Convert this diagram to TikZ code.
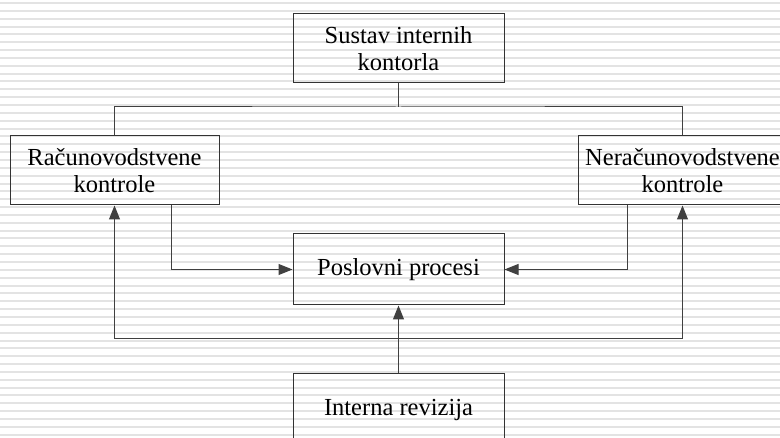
\documentclass[tikz,border=0pt]{standalone}
\usepackage{fontspec}
\setmainfont{Liberation Serif}
\usetikzlibrary{arrows.meta}

\begin{document}
\begin{tikzpicture}[
    x=1pt, y=-1pt,
    box/.style={rectangle, draw=black!80, line width=1pt, minimum width=211pt, minimum height=69pt, align=center, font=\fontsize{24.5}{27}\selectfont, inner sep=0pt},
    line/.style={draw=black!75, line width=1pt},
    arrow/.style={line, -{Triangle[length=14pt, width=11pt]}},
    stripe/.style={draw=gray!22, line width=2pt}
]
\useasboundingbox (0,0) rectangle (780,438);

% background stripes
\foreach \k in {0,...,55}
  \draw[stripe] (0,{3+7.85*\k}) -- (780,{3+7.85*\k});

\node[box] (system) at (398.5,48.5) {Sustav internih\\kontorla};
\node[box, minimum width=209pt] (acc) at (114.5,170.5) {Računovodstvene\\kontrole};
\node[box, minimum width=209pt] (nonacc) at (682.5,170.5) {Neračunovodstvene\\kontrole};
\node[box, minimum height=71pt] (proc) at (398.5,269.5) {Poslovni procesi};
\node[box, minimum height=71pt] (audit) at (398.5,409.5) {Interna revizija};

\coordinate (bus) at (398.5,107);
\coordinate (low) at (398.5,339);

\draw[line] (system) -- (bus);
\draw[line] (acc.north) |- (bus) -| (nonacc.north);
\draw[arrow] ([xshift=56.5pt]acc.south) |- (proc.west);
\draw[arrow] ([xshift=-55.5pt]nonacc.south) |- (proc.east);
\draw[arrow] (audit) -- (proc);
\draw[arrow] (low) -| (acc.south);
\draw[arrow] (low) -| (nonacc.south);

\end{tikzpicture}
\end{document}
